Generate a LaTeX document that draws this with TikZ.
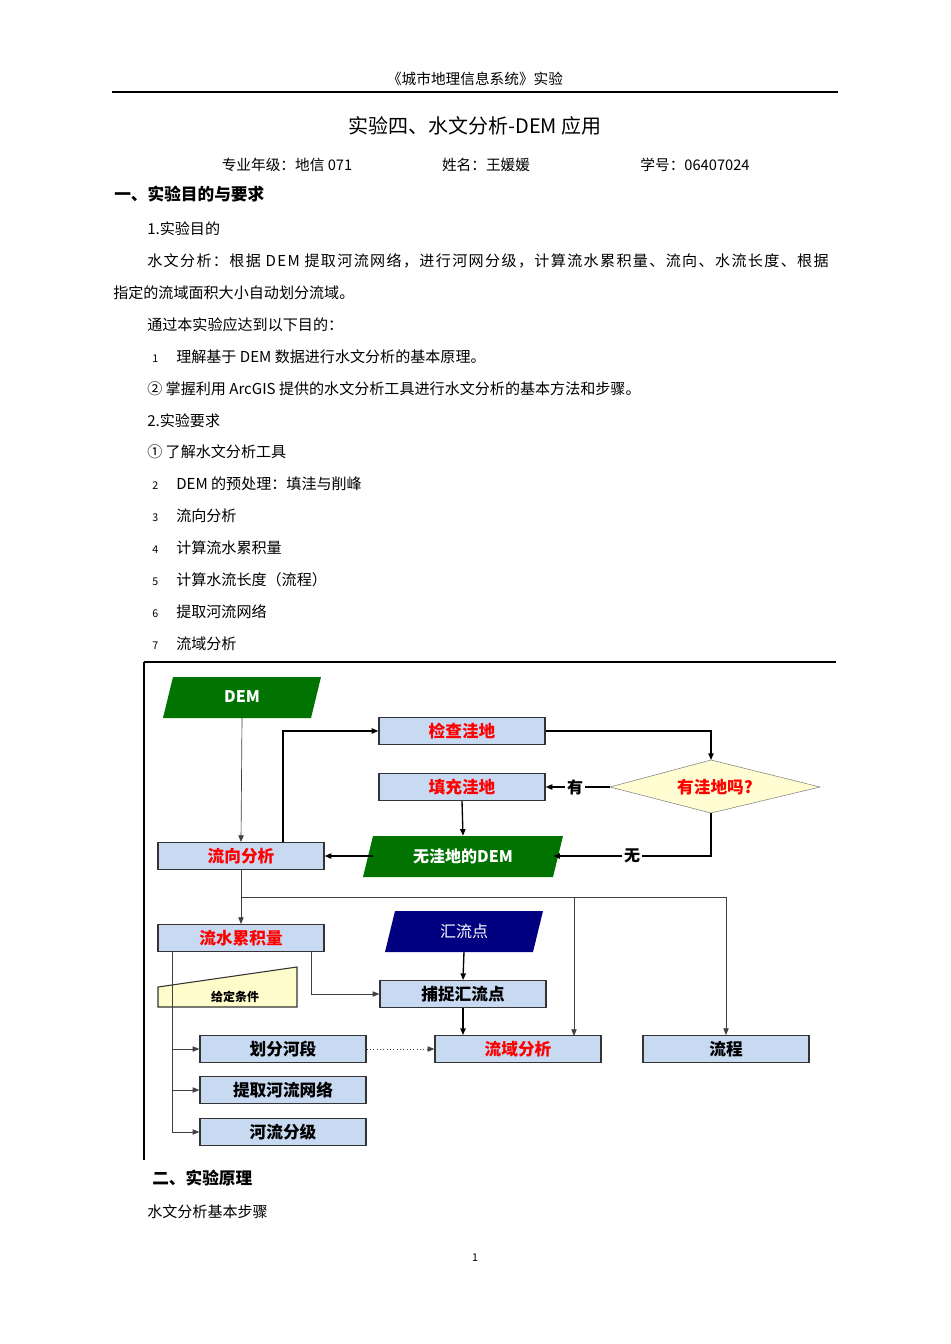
\documentclass[tikz,border=0pt]{standalone}
\usepackage{fontspec}
\setmainfont{Noto Sans CJK SC}
\usetikzlibrary{arrows.meta}
\definecolor{boxblue}{RGB}{200,218,242}
\tikzset{
 txt/.style={anchor=west,inner sep=0pt,font=\fontsize{11.3pt}{13pt}\selectfont},
 box/.style={draw=black!80,line width=1pt,fill=boxblue,minimum width=124.5pt,minimum height=20pt,inner sep=0pt,font=\fontsize{12.5pt}{14pt}\selectfont\bfseries},
 red/.style={text=red},
 ln/.style={draw=black!75,line width=0.5pt,-{Triangle[length=5pt,width=4pt]}},
 tk/.style={draw=black,line width=1pt,-{Triangle[length=5pt,width=4pt]}},
 pnode/.style={inner sep=0pt,minimum width=135pt,minimum height=30pt,text=white,font=\fontsize{12pt}{14pt}\selectfont\bfseries},
}
\begin{document}
\begin{tikzpicture}[x=0.75pt,y=-0.75pt]
\useasboundingbox (0,0) rectangle (950,1344);
\fill[white] (0,0) rectangle (950,1344);
% header
\node[inner sep=0pt,font=\fontsize{11pt}{13pt}\selectfont] (hdr) at (475,79) {《城市地理信息系统》实验};
\draw[line width=0.8pt] (112,92) -- (838,92);
\node[inner sep=0pt,font=\fontsize{15pt}{17pt}\selectfont] (title) at (475,126) {实验四、水文分析-DEM 应用};
\node[inner sep=0pt,font=\fontsize{11pt}{13pt}\selectfont] (i1) at (287,165) {专业年级：地信 071};
\node[inner sep=0pt,font=\fontsize{11pt}{13pt}\selectfont] (i2) at (486,165) {姓名：王媛媛};
\node[inner sep=0pt,font=\fontsize{11pt}{13pt}\selectfont] (i3) at (695,165) {学号：06407024};
\node[txt,font=\fontsize{12.5pt}{14pt}\selectfont\bfseries] (s1) at (114,194) {一、实验目的与要求};
\node[txt] (t1) at (147,229) {1.实验目的};
\node[txt,font=\fontsize{11.3pt}{13pt}\selectfont\addfontfeature{LetterSpace=9}] (t2) at (147,261) {水文分析：根据 DEM 提取河流网络，进行河网分级，计算流水累积量、流向、水流长度、根据};
\node[txt] (t3) at (113,293) {指定的流域面积大小自动划分流域。};
\node[txt] (t4) at (147,325) {通过本实验应达到以下目的：};
\node[txt,font=\fontsize{8pt}{10pt}\selectfont] (n1) at (152,359) {1};
\node[txt] (t5) at (176,357) {理解基于 DEM 数据进行水文分析的基本原理。};
\node[txt] (t6) at (147,389) {② 掌握利用 ArcGIS 提供的水文分析工具进行水文分析的基本方法和步骤。};
\node[txt] (t7) at (147,421) {2.实验要求};
\node[txt] (t8) at (147,452) {① 了解水文分析工具};
\foreach \n/\y/\s in {2/484/DEM 的预处理：填洼与削峰,3/516/流向分析,4/548/计算流水累积量,5/580/计算水流长度（流程）,6/612/提取河流网络,7/644/流域分析}{
 \node[txt,font=\fontsize{8pt}{10pt}\selectfont] (n\n) at (152,\y+2) {\n};
 \node[txt] (l\n) at (176,\y) {\s};
}
% frame
\draw[line width=0.8pt] (144,662) -- (836,662);
\draw[line width=0.8pt] (144,662) -- (144,1160);
% parallelograms
\fill[green!45!black] (173,677) -- (321,677) -- (311,718) -- (163,718) -- cycle;
\node[pnode,minimum width=110pt] (dem) at (242,697) {DEM};
\fill[green!45!black] (373,836) -- (563,836) -- (553,877) -- (363,877) -- cycle;
\node[pnode] (nodem) at (463,856) {无洼地的DEM};
\fill[blue!50!black] (395,911) -- (543,911) -- (533,952) -- (385,952) -- cycle;
\node[pnode,minimum width=110pt,font=\fontsize{12pt}{14pt}\selectfont] (hld) at (464,931) {汇流点};
% diamond
\draw[black!50,fill=yellow!18] (610,787) -- (711,760) -- (820,787) -- (711,813) -- cycle;
\node[inner sep=0pt,minimum width=150pt,minimum height=40pt,text=red,font=\fontsize{12.5pt}{14pt}\selectfont\bfseries] (dia) at (715,787) {有洼地吗?};
\coordinate (diaL) at (610,787);
\coordinate (diaT) at (711,760);
\coordinate (diaB) at (711,813);
% given condition
\draw[black!80,line width=0.8pt,fill=yellow!20] (158,987) -- (297,967) -- (297,1007) -- (158,1007) -- cycle;
\node[inner sep=0pt,font=\fontsize{9pt}{11pt}\selectfont\bfseries] (gd) at (235,997) {给定条件};
% boxes
\node[box,red] (jc) at (462,731) {检查洼地};
\node[box,red] (tc) at (462,787) {填充洼地};
\node[box,red] (lx) at (241,856) {流向分析};
\node[box,red] (lj) at (241,938) {流水累积量};
\node[box] (bz) at (463,994) {捕捉汇流点};
\node[box] (hf) at (283,1049) {划分河段};
\node[box,red] (ly) at (518,1049) {流域分析};
\node[box] (lc) at (726,1049) {流程};
\node[box] (tq) at (283,1090) {提取河流网络};
\node[box] (hl) at (283,1132) {河流分级};
% connectors
\draw[ln] (dem.south) -- (lx.north);
\draw[tk] (lx.north -| 283,0) -- (283,731) -- (jc.west);
\draw[tk] (jc.east) -- (711,731) -- (diaT);
\node[inner sep=1pt,font=\fontsize{12pt}{14pt}\selectfont\bfseries] (you) at (575,787) {有};
\draw[line width=1pt] (diaL) -- (you.east);
\draw[tk] (you.west) -- (tc.east);
\draw[tk] (tc.south) -- (nodem.north);
\node[inner sep=1pt,font=\fontsize{12pt}{14pt}\selectfont\bfseries] (wu) at (632,856) {无};
\draw[line width=1pt] (diaB) -- (711,856) -- (wu.east);
\draw[tk] (wu.west) -- (nodem.east);
\draw[tk] (nodem.west) -- (lx.east);
\draw[ln] (lx.south) -- (lj.north);
\draw[ln] (241,897) -- (726,897) -- (lc.north);
\draw[ln] (574,897) -- (574,1036);
\draw[tk] (hld.south) -- (bz.north);
\draw[ln] (lj.south -| 311,0) -- (311,994) -- (bz.west);
\draw[tk] (bz.south) -- (bz.south |- ly.north);
\draw[ln] (lj.south -| 172,0) -- (172,1132) -- (hl.west);
\draw[ln] (172,1049) -- (hf.west);
\draw[ln] (172,1090) -- (tq.west);
\draw[ln,dotted] (hf.east) -- (ly.west);
% section 2
\node[txt,font=\fontsize{12.5pt}{14pt}\selectfont\bfseries] (s2) at (152,1178) {二、实验原理};
\node[txt] (t9) at (147,1212) {水文分析基本步骤};
\node[inner sep=0pt,font=\fontsize{8pt}{10pt}\selectfont] (pg) at (475,1258) {1};
\end{tikzpicture}
\end{document}
